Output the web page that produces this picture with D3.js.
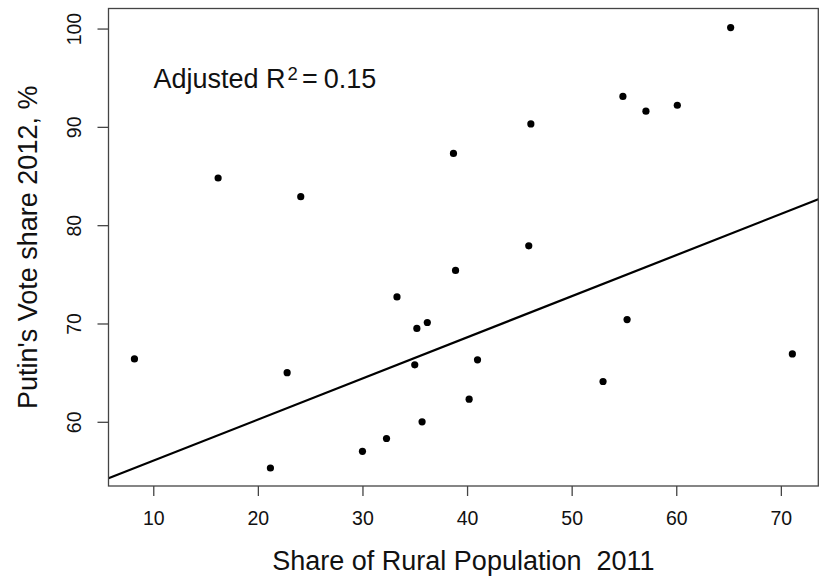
<!DOCTYPE html>
<html>
<head>
<meta charset="utf-8">
<script src="https://cdn.jsdelivr.net/npm/d3@7"></script>
<style>
  html, body { margin: 0; padding: 0; background: #fff; }
  svg { display: block; font-family: "Liberation Sans", Arial, sans-serif; }
</style>
</head>
<body>
<div id="chart"></div>
<script>
// Rural share (x) vs Putin vote share 2012 (y)
var ruralShare = [8.2, 16.2, 21.2, 22.8, 24.1, 30.0, 32.3, 33.3, 35.2, 35.0, 36.2, 35.7, 38.7,
                  38.9, 40.2, 41.0, 45.9, 46.1, 53.0, 54.9, 55.3, 57.1, 60.1, 65.2, 71.1];
var voteShare  = [66.4, 84.8, 55.3, 65.0, 82.9, 57.0, 58.3, 72.7, 69.5, 65.8, 70.1, 60.0, 87.3,
                  75.4, 62.3, 66.3, 77.9, 90.3, 64.1, 93.1, 70.4, 91.6, 92.2, 100.1, 66.9];
var xTicks = [10, 20, 30, 40, 50, 60, 70];
var yTicks = [60, 70, 80, 90, 100];
var fitCoef = [51.86, 0.4182];   // intercept, slope of the fitted line
var X_DOMAIN = [5.72, 73.58];
var Y_DOMAIN = [53.47, 102.04];

var W = 825, H = 577;
var box = { left: 108.5, right: 818.3, top: 8.5, bottom: 486 };

var svg = d3.select('#chart').append('svg')
  .attr('width', W).attr('height', H);

var x = d3.scaleLinear().domain(X_DOMAIN).range([box.left, box.right]);
var y = d3.scaleLinear().domain(Y_DOMAIN).range([box.bottom, box.top]);

svg.append('clipPath').attr('id', 'plotclip')
  .append('rect')
  .attr('x', box.left).attr('y', box.top)
  .attr('width', box.right - box.left).attr('height', box.bottom - box.top);

// regression line (abline, clipped to the box)
svg.append('line')
  .attr('clip-path', 'url(#plotclip)')
  .attr('x1', x(X_DOMAIN[0])).attr('y1', y(fitCoef[0] + fitCoef[1] * X_DOMAIN[0]))
  .attr('x2', x(X_DOMAIN[1])).attr('y2', y(fitCoef[0] + fitCoef[1] * X_DOMAIN[1]))
  .attr('stroke', '#000').attr('stroke-width', 2.2);

// points
svg.append('g').selectAll('circle')
  .data(d3.range(ruralShare.length))
  .enter().append('circle')
  .attr('cx', function (i) { return x(ruralShare[i]); })
  .attr('cy', function (i) { return y(voteShare[i]); })
  .attr('r', 3.6)
  .attr('fill', '#000');

// box
svg.append('rect')
  .attr('x', box.left).attr('y', box.top)
  .attr('width', box.right - box.left).attr('height', box.bottom - box.top)
  .attr('fill', 'none').attr('stroke', '#444').attr('stroke-width', 1.3);

// axes
var xAxis = d3.axisBottom(x).tickValues(xTicks).tickSize(10).tickPadding(15).tickSizeOuter(0);
var gx = svg.append('g').attr('transform', 'translate(0,' + box.bottom + ')').call(xAxis);
gx.select('.domain').remove();
gx.selectAll('line').attr('stroke', '#444').attr('stroke-width', 1.3);
gx.selectAll('text').attr('font-size', 19.5).attr('font-family', 'Liberation Sans, Arial, sans-serif')
  .attr('fill', '#111');

var yAxis = d3.axisLeft(y).tickValues(yTicks).tickSize(11).tickSizeOuter(0);
var gy = svg.append('g').attr('transform', 'translate(' + box.left + ',0)').call(yAxis);
gy.select('.domain').remove();
gy.selectAll('line').attr('stroke', '#444').attr('stroke-width', 1.3);
gy.selectAll('text')
  .attr('font-size', 19.5).attr('font-family', 'Liberation Sans, Arial, sans-serif')
  .attr('fill', '#111')
  .attr('x', null).attr('dy', null)
  .attr('text-anchor', 'middle')
  .attr('transform', 'translate(-28,0) rotate(-90)');

// axis titles
svg.append('text')
  .attr('x', (box.left + box.right) / 2).attr('y', 570)
  .attr('text-anchor', 'middle').attr('font-size', 27).attr('fill', '#111')
  .text('Share of Rural Population\u00a0\u00a02011');

svg.append('text')
  .attr('transform', 'translate(37,' + ((box.top + box.bottom) / 2) + ') rotate(-90)')
  .attr('text-anchor', 'middle').attr('font-size', 27).attr('fill', '#111')
  .text('Putin\'s Vote share 2012, %');

// annotation
var note = svg.append('text')
  .attr('x', 153.5).attr('y', 87.5)
  .attr('font-size', 27).attr('fill', '#111');
note.append('tspan').text('Adjusted R');
note.append('tspan').attr('dx', 2).attr('dy', -7.5).attr('font-size', 18.5).text('2');
note.append('tspan').attr('dx', 4).attr('dy', 7.5).text('=');
note.append('tspan').attr('dx', 6).text('0.15');
</script>
</body>
</html>
